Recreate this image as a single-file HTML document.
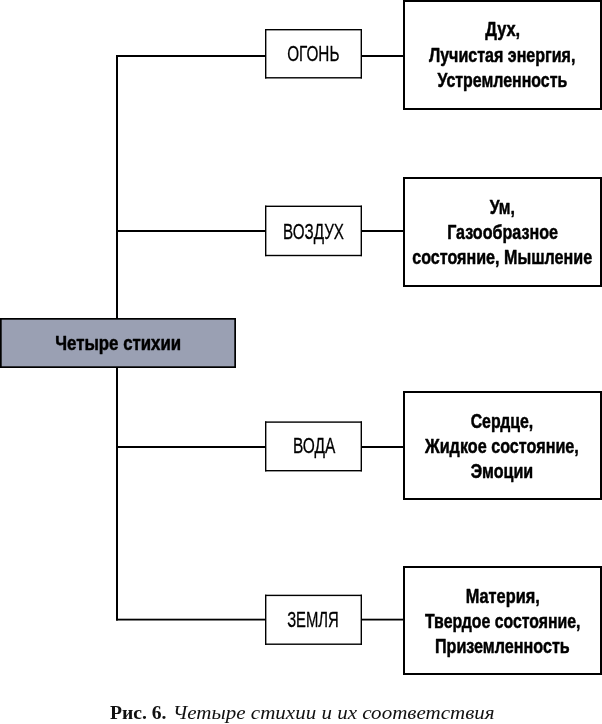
<!DOCTYPE html>
<html><head><meta charset="utf-8"><style>
html,body{margin:0;padding:0;background:#fff;}
svg{display:block;will-change:transform;}
</style></head><body>
<svg width="602" height="724" viewBox="0 0 602 724">
<rect x="0" y="0" width="602" height="724" fill="#fff"/>
<rect x="116.00" y="55.00" width="2.00" height="565.50" fill="#000"/><rect x="116.00" y="55.00" width="149.00" height="2.00" fill="#000"/><rect x="116.00" y="230.00" width="149.00" height="2.00" fill="#000"/><rect x="116.00" y="446.00" width="149.00" height="2.00" fill="#000"/><rect x="116.00" y="618.70" width="149.00" height="1.80" fill="#000"/><rect x="362.00" y="55.00" width="41.00" height="2.00" fill="#000"/><rect x="362.00" y="230.00" width="41.00" height="2.00" fill="#000"/><rect x="362.00" y="446.00" width="41.00" height="2.00" fill="#000"/><rect x="362.00" y="618.70" width="41.00" height="1.80" fill="#000"/><rect x="265.00" y="29.00" width="97.00" height="1.40" fill="#000"/><rect x="265.00" y="77.10" width="97.00" height="1.40" fill="#000"/><rect x="265.00" y="29.00" width="1.40" height="49.50" fill="#000"/><rect x="360.60" y="29.00" width="1.40" height="49.50" fill="#000"/><rect x="265.00" y="205.60" width="97.00" height="1.40" fill="#000"/><rect x="265.00" y="254.80" width="97.00" height="1.40" fill="#000"/><rect x="265.00" y="205.60" width="1.40" height="50.60" fill="#000"/><rect x="360.60" y="205.60" width="1.40" height="50.60" fill="#000"/><rect x="265.00" y="421.40" width="97.00" height="1.40" fill="#000"/><rect x="265.00" y="470.00" width="97.00" height="1.40" fill="#000"/><rect x="265.00" y="421.40" width="1.40" height="50.00" fill="#000"/><rect x="360.60" y="421.40" width="1.40" height="50.00" fill="#000"/><rect x="265.00" y="594.70" width="97.00" height="1.40" fill="#000"/><rect x="265.00" y="643.50" width="97.00" height="1.40" fill="#000"/><rect x="265.00" y="594.70" width="1.40" height="50.20" fill="#000"/><rect x="360.60" y="594.70" width="1.40" height="50.20" fill="#000"/><rect x="403.00" y="0.00" width="199.00" height="2.00" fill="#000"/><rect x="403.00" y="108.00" width="199.00" height="2.00" fill="#000"/><rect x="403.00" y="0.00" width="2.00" height="110.00" fill="#000"/><rect x="600.00" y="0.00" width="2.00" height="110.00" fill="#000"/><rect x="403.00" y="177.00" width="199.00" height="2.00" fill="#000"/><rect x="403.00" y="285.00" width="199.00" height="2.00" fill="#000"/><rect x="403.00" y="177.00" width="2.00" height="110.00" fill="#000"/><rect x="600.00" y="177.00" width="2.00" height="110.00" fill="#000"/><rect x="403.00" y="391.00" width="199.00" height="2.00" fill="#000"/><rect x="403.00" y="498.00" width="199.00" height="2.00" fill="#000"/><rect x="403.00" y="391.00" width="2.00" height="109.00" fill="#000"/><rect x="600.00" y="391.00" width="2.00" height="109.00" fill="#000"/><rect x="403.00" y="566.00" width="199.00" height="2.00" fill="#000"/><rect x="403.00" y="673.00" width="199.00" height="2.00" fill="#000"/><rect x="403.00" y="566.00" width="2.00" height="109.00" fill="#000"/><rect x="600.00" y="566.00" width="2.00" height="109.00" fill="#000"/><rect x="0.00" y="318.00" width="236.00" height="50.00" fill="#9aa0b3"/><rect x="0.00" y="318.00" width="236.00" height="1.70" fill="#000"/><rect x="0.00" y="366.30" width="236.00" height="1.70" fill="#000"/><rect x="0.00" y="318.00" width="1.70" height="50.00" fill="#000"/><rect x="234.30" y="318.00" width="1.70" height="50.00" fill="#000"/>
<g fill="#000" stroke="#000" stroke-linejoin="round">
<text letter-spacing="0" stroke-width="0.5" x="502.70" y="36.30" font-family="Liberation Sans" font-weight="bold" font-style="normal" font-size="20.5" text-anchor="middle" textLength="34.90" lengthAdjust="spacingAndGlyphs">Дух,</text><text letter-spacing="0" stroke-width="0.5" x="502.20" y="61.50" font-family="Liberation Sans" font-weight="bold" font-style="normal" font-size="20.5" text-anchor="middle" textLength="146.50" lengthAdjust="spacingAndGlyphs">Лучистая энергия,</text><text letter-spacing="0" stroke-width="0.5" x="502.40" y="86.80" font-family="Liberation Sans" font-weight="bold" font-style="normal" font-size="20.5" text-anchor="middle" textLength="129.70" lengthAdjust="spacingAndGlyphs">Устремленность</text><text letter-spacing="0" stroke-width="0.5" x="502.30" y="214.10" font-family="Liberation Sans" font-weight="bold" font-style="normal" font-size="20.5" text-anchor="middle" textLength="25.10" lengthAdjust="spacingAndGlyphs">Ум,</text><text letter-spacing="0" stroke-width="0.5" x="502.60" y="239.00" font-family="Liberation Sans" font-weight="bold" font-style="normal" font-size="20.5" text-anchor="middle" textLength="110.90" lengthAdjust="spacingAndGlyphs">Газообразное</text><text letter-spacing="0" stroke-width="0.5" x="502.20" y="263.90" font-family="Liberation Sans" font-weight="bold" font-style="normal" font-size="20.5" text-anchor="middle" textLength="179.90" lengthAdjust="spacingAndGlyphs">состояние, Мышление</text><text letter-spacing="0" stroke-width="0.5" x="501.90" y="428.20" font-family="Liberation Sans" font-weight="bold" font-style="normal" font-size="20.5" text-anchor="middle" textLength="62.50" lengthAdjust="spacingAndGlyphs">Сердце,</text><text letter-spacing="0" stroke-width="0.5" x="501.95" y="452.80" font-family="Liberation Sans" font-weight="bold" font-style="normal" font-size="20.5" text-anchor="middle" textLength="153.80" lengthAdjust="spacingAndGlyphs">Жидкое состояние,</text><text letter-spacing="0" stroke-width="0.5" x="501.90" y="478.10" font-family="Liberation Sans" font-weight="bold" font-style="normal" font-size="20.5" text-anchor="middle" textLength="62.50" lengthAdjust="spacingAndGlyphs">Эмоции</text><text letter-spacing="0" stroke-width="0.5" x="502.75" y="603.20" font-family="Liberation Sans" font-weight="bold" font-style="normal" font-size="20.5" text-anchor="middle" textLength="74.00" lengthAdjust="spacingAndGlyphs">Материя,</text><text letter-spacing="0" stroke-width="0.5" x="502.75" y="628.20" font-family="Liberation Sans" font-weight="bold" font-style="normal" font-size="20.5" text-anchor="middle" textLength="155.40" lengthAdjust="spacingAndGlyphs">Твердое состояние,</text><text letter-spacing="0" stroke-width="0.5" x="502.35" y="653.10" font-family="Liberation Sans" font-weight="bold" font-style="normal" font-size="20.5" text-anchor="middle" textLength="134.80" lengthAdjust="spacingAndGlyphs">Приземленность</text><text letter-spacing="0" stroke-width="0.3" x="313.30" y="61.40" font-family="Liberation Sans" font-weight="normal" font-style="normal" font-size="21.5" text-anchor="middle" textLength="52.30" lengthAdjust="spacingAndGlyphs">ОГОНЬ</text><text letter-spacing="0" stroke-width="0.3" x="313.50" y="238.70" font-family="Liberation Sans" font-weight="normal" font-style="normal" font-size="21.5" text-anchor="middle" textLength="60.90" lengthAdjust="spacingAndGlyphs">ВОЗДУХ</text><text letter-spacing="0" stroke-width="0.3" x="314.10" y="453.10" font-family="Liberation Sans" font-weight="normal" font-style="normal" font-size="21.5" text-anchor="middle" textLength="42.30" lengthAdjust="spacingAndGlyphs">ВОДА</text><text letter-spacing="0" stroke-width="0.3" x="312.95" y="626.90" font-family="Liberation Sans" font-weight="normal" font-style="normal" font-size="21.5" text-anchor="middle" textLength="51.60" lengthAdjust="spacingAndGlyphs">ЗЕМЛЯ</text><text letter-spacing="0" stroke-width="0.5" x="118.20" y="350.00" font-family="Liberation Sans" font-weight="bold" font-style="normal" font-size="21" text-anchor="middle" textLength="125.90" lengthAdjust="spacingAndGlyphs">Четыре стихии</text>
</g>
<text x="110" y="718.6" font-family="Liberation Serif" font-weight="bold" font-size="18.5" textLength="56.5" lengthAdjust="spacingAndGlyphs" fill="#111">Рис. 6.</text><text x="172.8" y="718.8" font-family="Liberation Serif" font-style="italic" font-size="18.5" textLength="321.8" lengthAdjust="spacingAndGlyphs" fill="#111">Четыре стихии и их соответствия</text>
</svg>
</body></html>
